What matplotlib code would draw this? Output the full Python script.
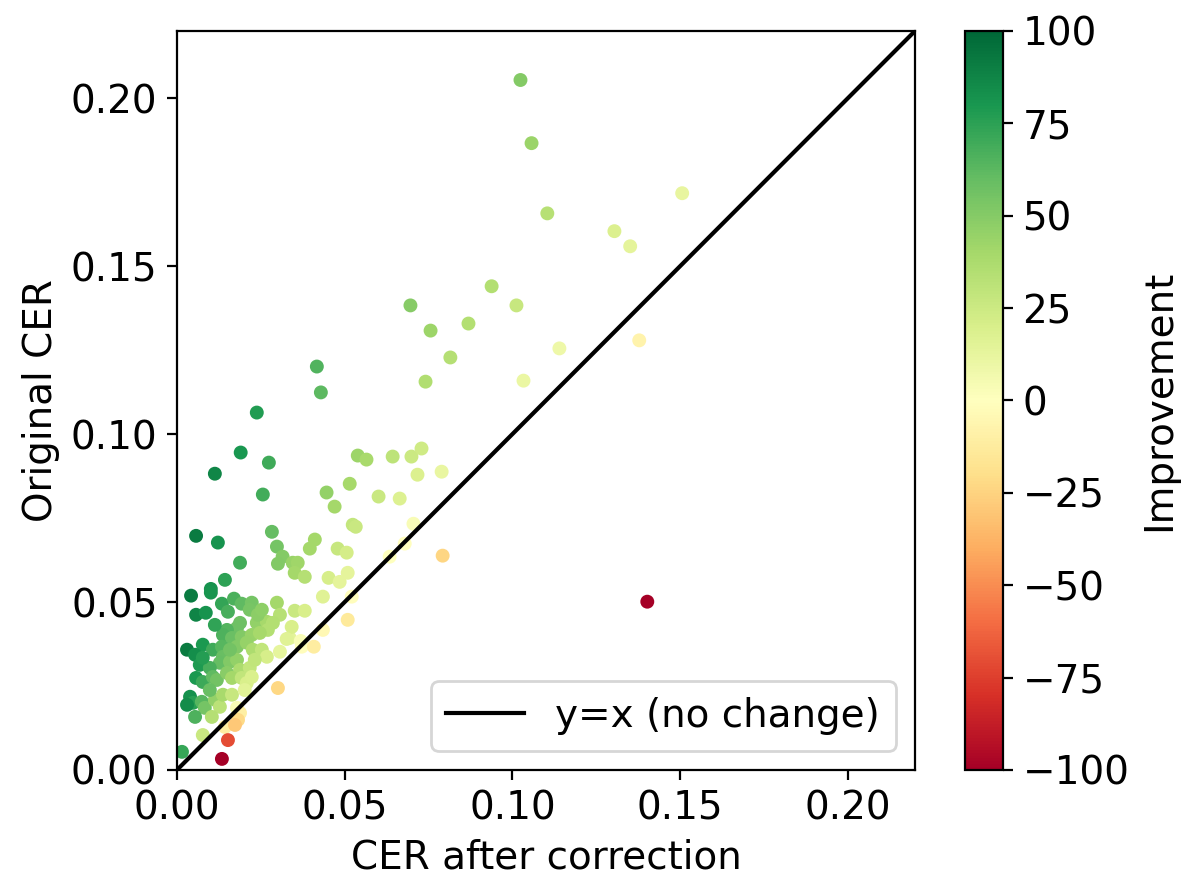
import matplotlib
matplotlib.use('Agg')
import matplotlib.pyplot as plt
import numpy as np

# CER after correction (x) and original CER (y)
cer_after = [
    0.1024, 0.1057, 0.1104, 0.1506, 0.1304, 0.1351, 0.0938, 0.1012, 0.0696, 0.0756,
    0.0869, 0.0815, 0.1140, 0.1378, 0.1033, 0.0741, 0.0417, 0.0429, 0.0238, 0.0190,
    0.0274, 0.0113, 0.0256, 0.0539, 0.0565, 0.0643, 0.0699, 0.0729, 0.0717, 0.0789,
    0.0515, 0.0446, 0.0470, 0.0601, 0.0664, 0.0524, 0.0533, 0.0705, 0.0679, 0.0792,
    0.0634, 0.1402, 0.0057, 0.0122, 0.0283, 0.0188, 0.0143, 0.0101, 0.0411, 0.0396,
    0.0479, 0.0506, 0.0298, 0.0315, 0.0301, 0.0345, 0.0360, 0.0351, 0.0381, 0.0452,
    0.0485, 0.0509, 0.0435, 0.0521, 0.0351, 0.0381, 0.0509, 0.0435, 0.0372, 0.0408,
    0.0336, 0.0342, 0.0042, 0.0101, 0.0134, 0.0170, 0.0193, 0.0223, 0.0217, 0.0298,
    0.0057, 0.0086, 0.0152, 0.0307, 0.0188, 0.0179, 0.0149, 0.0238, 0.0268, 0.0271,
    0.0137, 0.0164, 0.0193, 0.0223, 0.0247, 0.0327, 0.0369, 0.0077, 0.0107, 0.0030,
    0.0054, 0.0134, 0.0137, 0.0128, 0.0179, 0.0208, 0.0226, 0.0253, 0.0307, 0.0068,
    0.0098, 0.0077, 0.0158, 0.0179, 0.0188, 0.0217, 0.0268, 0.0057, 0.0077, 0.0107,
    0.0119, 0.0149, 0.0164, 0.0193, 0.0208, 0.0223, 0.0301, 0.0039, 0.0048, 0.0030,
    0.0074, 0.0083, 0.0113, 0.0128, 0.0137, 0.0164, 0.0179, 0.0188, 0.0182, 0.0104,
    0.0054, 0.0077, 0.0143, 0.0173, 0.0152, 0.0134, 0.0015, 0.0241, 0.0286, 0.0202,
    0.0232, 0.0113, 0.0158, 0.0098, 0.0253,
]
cer_original = [
    0.2054, 0.1866, 0.1657, 0.1717, 0.1604, 0.1559, 0.1440, 0.1383, 0.1383, 0.1308,
    0.1329, 0.1228, 0.1255, 0.1279, 0.1159, 0.1156, 0.1201, 0.1124, 0.1064, 0.0945,
    0.0915, 0.0882, 0.0820, 0.0936, 0.0924, 0.0933, 0.0933, 0.0957, 0.0879, 0.0888,
    0.0852, 0.0826, 0.0784, 0.0814, 0.0808, 0.0730, 0.0724, 0.0733, 0.0674, 0.0638,
    0.0635, 0.0501, 0.0697, 0.0677, 0.0709, 0.0617, 0.0566, 0.0539, 0.0686, 0.0659,
    0.0659, 0.0647, 0.0665, 0.0635, 0.0614, 0.0617, 0.0617, 0.0587, 0.0575, 0.0572,
    0.0560, 0.0587, 0.0516, 0.0516, 0.0474, 0.0474, 0.0447, 0.0417, 0.0367, 0.0367,
    0.0393, 0.0426, 0.0519, 0.0528, 0.0495, 0.0510, 0.0495, 0.0498, 0.0477, 0.0498,
    0.0462, 0.0468, 0.0471, 0.0462, 0.0438, 0.0423, 0.0417, 0.0438, 0.0441, 0.0417,
    0.0402, 0.0393, 0.0396, 0.0402, 0.0408, 0.0390, 0.0384, 0.0373, 0.0358, 0.0358,
    0.0343, 0.0367, 0.0337, 0.0319, 0.0367, 0.0379, 0.0358, 0.0358, 0.0352, 0.0313,
    0.0304, 0.0334, 0.0322, 0.0328, 0.0298, 0.0304, 0.0337, 0.0274, 0.0262, 0.0277,
    0.0268, 0.0289, 0.0274, 0.0274, 0.0259, 0.0277, 0.0244, 0.0218, 0.0200, 0.0194,
    0.0203, 0.0185, 0.0209, 0.0188, 0.0224, 0.0224, 0.0185, 0.0170, 0.0149, 0.0158,
    0.0158, 0.0104, 0.0128, 0.0134, 0.0089, 0.0033, 0.0054, 0.0462, 0.0438, 0.0238,
    0.0328, 0.0432, 0.0358, 0.0238, 0.0477,
]

x = np.array(cer_after)
y = np.array(cer_original)
improvement = (y - x) / y * 100  # relative improvement in %

fs = 14
fig = plt.figure(figsize=(5.93, 4.41), dpi=200)
ax = fig.add_axes([0.1492, 0.1270, 0.6223, 0.8379])
cax = fig.add_axes([0.8137, 0.1270, 0.032, 0.8379])

sc = ax.scatter(x, y, c=improvement, cmap='RdYlGn', vmin=-100, vmax=100, s=16)
ax.plot([0, 0.22], [0, 0.22], color='black', label='y=x (no change)')
ax.set_xlim(0, 0.22)
ax.set_ylim(0, 0.22)
ax.set_xticks([0, 0.05, 0.10, 0.15, 0.20])
ax.set_yticks([0, 0.05, 0.10, 0.15, 0.20])
ax.tick_params(labelsize=fs)
ax.set_xlabel('CER after correction', fontsize=fs)
ax.set_ylabel('Original CER', fontsize=fs)
ax.legend(loc='lower right', fontsize=fs)

cb = fig.colorbar(sc, cax=cax)
cb.set_label('Improvement', fontsize=fs)
cb.ax.tick_params(labelsize=fs)

fig.savefig('out.png', dpi=200)
